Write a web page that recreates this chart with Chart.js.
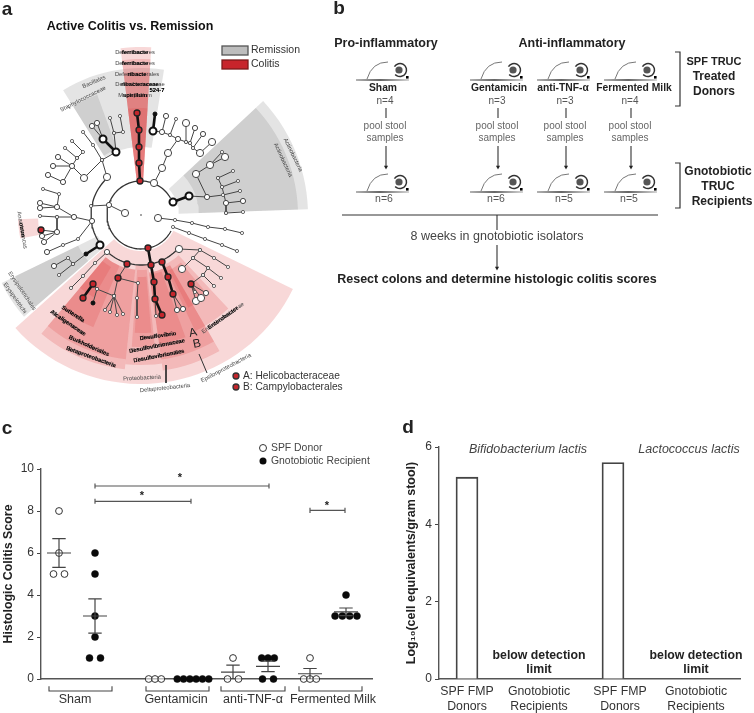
<!DOCTYPE html>
<html>
<head>
<meta charset="utf-8">
<script src="https://cdn.jsdelivr.net/npm/chart.js@4"></script>
<style>
  html, body { margin: 0; padding: 0; background: #fff; }
  canvas { position: absolute; filter: blur(0.35px); }
</style>
</head>
<body>
<canvas id="schematic" width="754" height="410" style="left:0;top:0"></canvas>
<canvas id="scores" width="400" height="293" style="left:0;top:420px"></canvas>
<canvas id="counts" width="354" height="293" style="left:400px;top:420px"></canvas>
<script>
const FONT = '"Liberation Sans", Arial, sans-serif';

// panel c
const categories = ['Sham', 'Gentamicin', 'anti-TNF-α', 'Fermented Milk'];
const donorScores = [[8, 6, 5, 5], [0, 0, 0], [1, 0, 0], [1, 0, 0, 0]];
const recipientScores = [[6, 5, 3, 2, 1, 1], [0, 0, 0, 0, 0, 0], [1, 1, 1, 0, 0], [4, 3, 3, 3, 3]];
const donorMeans = [6, null, 0.33, 0.25];
const donorErrors = [0.68, null, 0.33, 0.25];
const recipientMeans = [3, null, 0.6, 3.2];
const recipientErrors = [0.82, null, 0.25, 0.18];
const scoreTicks = [0, 2, 4, 6, 8, 10];
const sigLevels = [9.19, 8.46, 8.03];

// panel d
const countLabels = [['SPF FMP', 'Donors'], ['Gnotobiotic', 'Recipients'], ['SPF FMP', 'Donors'], ['Gnotobiotic', 'Recipients']];
const countValues = [5.22, 0, 5.6, 0];

// panel b
const donorGroups = ['Sham', 'Gentamicin', 'anti-TNF-α', 'Fermented Milk'];
const donorN = ['n=4', 'n=3', 'n=3', 'n=4'];
const recipientN = ['n=6', 'n=6', 'n=5', 'n=5'];

// panel a: sectors are [from deg, to deg, inner radius, outer radius] clockwise from north
const redSectors = [
  [116, 228, 36, 169],
  [186, 220, 55, 155], [186, 220, 55, 145], [203, 220, 55, 122], [210, 220, 60, 95],
  [172, 186, 50, 150], [174, 184, 55, 132], [175, 183, 62, 118],
  [150, 172, 58, 157], [150, 172, 58, 146], [160, 172, 60, 130],
  [137, 155, 55, 128], [140, 153, 62, 104],
  [259, 268, 103, 123],
  [-7, 3.5, 34, 168], [-7, 3.5, 34, 156], [-7, 3.5, 34, 143], [-7, 3.5, 34, 120], [-7, 3.5, 34, 107]
];
const graySectors = [
  [-32, 9, 68, 147], [-32, -20, 70, 128],
  [47, 88, 38, 167], [47, 88, 58, 157],
  [229, 244, 48, 155], [229, 244, 70, 140]
];
const cladeArcs = [[34, 118, 420], [50, 234, 318], [50, 131, 222.6]];
const cladeBranches = [
  [154, 183, 162, 168, 168, 153, 178, 139], [178, 139, 170, 135, 162, 132, 166, 116], [170, 135, 176, 119],
  [162, 132, 153, 131], [178, 139, 186, 142, 186, 123], [186, 142, 190, 143, 195, 128],
  [190, 143, 193, 148, 203, 134], [193, 148, 200, 153, 212, 142],
  [189, 196, 207, 197, 196, 174, 210, 165, 222, 152], [210, 165, 225, 157], [207, 197, 223, 195, 240, 191],
  [218, 178, 222, 187, 226, 203, 226, 213], [218, 178, 233, 171], [222, 187, 238, 181], [226, 203, 243, 201], [226, 213, 243, 212],
  [158, 218, 175, 220, 192, 223, 208, 227, 225, 229, 242, 233], [173, 227, 189, 233, 205, 239, 222, 245, 237, 251],
  [179, 249, 200, 250, 214, 258, 228, 267], [200, 250, 193, 258, 182, 269], [193, 258, 208, 268, 221, 278],
  [208, 268, 203, 275, 214, 286], [203, 275, 191, 284], [191, 284, 196, 301], [191, 284, 201, 298], [191, 284, 206, 293], [191, 284, 195, 292],
  [173, 294, 177, 310], [173, 294, 183, 309], [155, 299, 156, 316],
  [107, 252, 95, 263, 83, 276, 71, 288], [127, 264, 118, 278, 114, 296], [118, 278, 138, 283, 137, 298, 137, 317],
  [93, 284, 97, 289, 114, 296], [97, 289, 93, 303], [114, 296, 105, 310], [114, 296, 110, 312], [114, 296, 117, 315], [114, 296, 123, 314],
  [86, 254, 73, 264, 68, 258, 54, 266], [73, 264, 59, 275],
  [92, 221, 74, 217, 57, 207, 40, 203], [57, 207, 40, 208], [74, 217, 57, 217, 40, 216], [57, 217, 57, 232, 41, 230],
  [57, 232, 42, 236], [57, 232, 44, 242], [57, 207, 59, 194, 43, 189], [92, 221, 78, 239, 63, 245, 47, 252],
  [109, 205, 91, 206], [109, 205, 125, 213],
  [107, 177, 102, 160], [102, 160, 116, 152], [84, 178, 102, 160],
  [84, 178, 72, 166, 63, 182, 48, 175], [72, 166, 53, 166], [72, 166, 58, 157], [72, 166, 77, 158, 65, 148], [77, 158, 83, 152, 72, 141],
  [102, 160, 93, 145, 83, 132], [116, 152, 114, 133, 110, 118], [114, 133, 123, 132, 120, 116], [103, 139, 92, 126], [103, 139, 97, 123]
];
const cladeThick = [
  [140, 181, 139, 163, 139, 147, 139, 130, 137, 113], [153, 131, 155, 114], [173, 202, 189, 196],
  [148, 248, 151, 265, 154, 282, 155, 299, 162, 315], [162, 262, 168, 277, 173, 294],
  [93, 284, 83, 298], [100, 245, 86, 254], [116, 152, 103, 139]
];
const bigNodes = [[162, 168], [168, 153], [154, 183], [158, 218], [179, 249], [182, 269], [196, 301], [201, 298], [84, 178], [107, 177], [125, 213],
  [186, 123], [212, 142], [200, 153], [210, 165], [196, 174], [225, 157]];
const midNodes = [[178, 139], [162, 132], [166, 116], [203, 134], [195, 128], [207, 197], [243, 201], [226, 203], [92, 221], [74, 217], [57, 207], [57, 232],
  [72, 166], [58, 157], [63, 182], [48, 175], [53, 166], [92, 126], [97, 123], [206, 293], [177, 310], [183, 309], [40, 203], [40, 208], [54, 266], [47, 252],
  [44, 242], [42, 236], [107, 252], [109, 205]];
const redNodes = [[140, 181], [139, 163], [139, 147], [139, 130], [137, 113], [148, 248], [127, 264], [118, 278], [93, 284], [83, 298], [151, 265], [154, 282],
  [155, 299], [162, 315], [162, 262], [168, 277], [173, 294], [191, 284], [41, 230]];
const ringNodes = [[153, 131], [173, 202], [116, 152], [103, 139], [100, 245], [189, 196]];
const blackNodes = [[155, 114], [86, 254], [93, 303]];

const cladeLabels = [
  ['Deferribacteres', 135, 52, 0, 'ferribacte'], ['Deferribacteres', 135, 63, 0, 'ferribacte'], ['Deferribacterales', 137, 74, 0, 'ribacte'],
  ['Deferribacteraceae', 140, 84, 0, 'ribacteraceae'], ['524-7', 157, 90, 0, '524-7'], ['Mucispirillum', 135, 95, 0, 'spirillum'],
  ['Bacillales', 94, 82, -23, ''], ['Staphylococcaceae', 83, 99, -27, ''],
  ['Actinobacteria', 293, 155, 64, ''], ['Actinobacteria', 283, 160, 65, ''],
  ['Erysipelotrichales', 22, 291, 56, ''], ['Erysipelotrichi', 15, 298, 55, ''], ['Anaerotruncus', 22, 230, 80, 'otrun'],
  ['Sutterella', 73, 314, 33, 'Sutterella'], ['Alcaligenaceae', 68, 323, 34, 'Alcaligenaceae'], ['Burkholderiales', 89, 346, 24, 'Burkholderiales'],
  ['Betaproteobacteria', 91, 357, 20, 'Betaproteobacteria'], ['Proteobacteria', 142, 378, -3, ''], ['Deltaproteobacteria', 165, 388, -6, ''],
  ['Epsilonproteobacteria', 226, 368, -28, ''], ['Desulfovibrio', 158, 336, -8, 'Desulfovibrio'], ['Desulfovibrionaceae', 157, 346, -11, 'Desulfovibrionaceae'],
  ['Desulfovibrionales', 159, 356, -11, 'Desulfovibrionales'], ['Enterobacteriaceae', 223, 318, -35, 'Enterobacter']
];

// layout, in page pixels (the schematic scales run in page pixels)
const rootX = 141, rootY = 215;
const mouseX = [383, 497, 564, 631];
const donorMouseY = 72, recipientMouseY = 184;
const flowX = [386, 498, 566, 631];
const donorCenterX = [59, 155, 233, 310];
const recipientCenterX = [95, 193, 268, 346];
const groupLabelX = [75, 176, 253, 333];
const groupBrackets = [[49, 112], [146, 209], [221, 285], [299, 362]];
const sigSpans = [[95, 269], [95, 191], [310, 345]];
const countX = [467, 539, 613, 696];
const countLabelX = [467, 539, 620, 696];

Chart.defaults.font.family = FONT;
Chart.defaults.animation = false;
Chart.defaults.events = [];
Chart.defaults.plugins.legend.display = false;
Chart.defaults.plugins.tooltip.enabled = false;
Chart.defaults.responsive = false;
Chart.defaults.layout.autoPadding = false;

function polar(angle, r) {
  const t = angle * Math.PI / 180;
  return { x: rootX + r * Math.sin(t), y: rootY - r * Math.cos(t) };
}
function arcPoints(a0, a1, r) {
  const pts = [];
  const n = Math.ceil(Math.abs(a1 - a0) / 3);
  for (let i = 0; i <= n; i++) pts.push(polar(a0 + (a1 - a0) * i / n, r));
  return pts;
}
function sectorDataset(s, color) {
  const pts = arcPoints(s[0], s[1], s[3]).concat(arcPoints(s[1], s[0], s[2]));
  return { data: pts, showLine: true, fill: 'shape', backgroundColor: color, borderWidth: 0, pointRadius: 0, clip: false };
}
// flat polylines to {x,y} with gaps between them
function segments(lines) {
  const pts = [];
  lines.forEach(l => {
    for (let i = 0; i < l.length; i += 2) pts.push({ x: l[i], y: l[i + 1] });
    pts.push({ x: null, y: null });
  });
  return pts;
}
function pairs(list) { return list.map(p => ({ x: p[0], y: p[1] })); }

function nodeDataset(list, radius, fill, stroke, width) {
  return { data: pairs(list), pointRadius: radius, pointBackgroundColor: fill, pointBorderColor: stroke, pointBorderWidth: width, clip: false };
}

function makeMouse() {
  const c = document.createElement('canvas');
  c.width = 54; c.height = 22;
  const g = c.getContext('2d');
  const base = g.createLinearGradient(0, 0, 54, 0);
  base.addColorStop(0, '#999'); base.addColorStop(0.45, '#333'); base.addColorStop(1, '#ccc');
  g.strokeStyle = base; g.lineWidth = 1.3;
  g.beginPath(); g.moveTo(0, 19); g.lineTo(53, 19); g.stroke();
  g.strokeStyle = '#777'; g.lineWidth = 1;
  g.beginPath(); g.moveTo(11, 18); g.quadraticCurveTo(16, 1, 32, 1); g.stroke();
  g.strokeStyle = '#333'; g.lineWidth = 1.5;
  g.beginPath(); g.arc(44, 9, 6.5, -2.6, 2.4); g.stroke();
  g.fillStyle = '#555';
  g.beginPath(); g.arc(43, 9, 3.6, 0, Math.PI * 2); g.fill();
  g.fillStyle = '#000';
  g.fillRect(50, 15, 2.6, 2.6);
  return c;
}

function put(chart, text, x, y, font, color, align, rot) {
  const ctx = chart.ctx;
  ctx.save();
  ctx.translate(chart.scales.x.getPixelForValue(x), chart.scales.y.getPixelForValue(y));
  if (rot) ctx.rotate(rot * Math.PI / 180);
  ctx.font = font + ' ' + FONT;
  ctx.fillStyle = color || '#222';
  ctx.textAlign = align || 'center';
  ctx.textBaseline = 'middle';
  ctx.fillText(text, 0, 0);
  ctx.restore();
}

const mouseIcon = makeMouse();
const flowLines = [];
const arrowTips = [];
flowX.forEach(x => {
  flowLines.push([x, 108, x, 118], [x, 146, x, 167]);
  arrowTips.push([x, 167]);
});
flowLines.push([342, 215, 658, 215], [497, 215, 497, 230], [497, 245, 497, 268]);
arrowTips.push([497, 268]);
const bracketLines = [[675, 52, 680, 52, 680, 106, 675, 106], [675, 163, 680, 163, 680, 208, 675, 208]];
const guideLines = [[166, 365, 166, 383], [199, 354, 207, 373]];

new Chart(document.getElementById('schematic'), {
  type: 'scatter',
  data: {
    datasets: [
      nodeDataset(redNodes, 3, '#c4262c', '#222', 1.3),
      nodeDataset(ringNodes, 3.5, '#fff', '#111', 2),
      nodeDataset(blackNodes, 2, '#111', '#111', 1),
      nodeDataset(bigNodes, 3.6, '#fff', '#444', 1),
      nodeDataset(midNodes, 2.6, '#fff', '#444', 1),
      { data: segments(cladeThick), showLine: true, borderColor: '#111', borderWidth: 2.6, pointRadius: 0, clip: false },
      { data: segments(cladeBranches), showLine: true, borderColor: '#444', borderWidth: 1, pointRadius: 1.6,
        pointBackgroundColor: '#fff', pointBorderColor: '#444', pointBorderWidth: 0.8, clip: false },
      { data: cladeArcs.reduce((all, a) => all.concat(arcPoints(a[1], a[2], a[0]), [{ x: null, y: null }]), []),
        showLine: true, borderColor: '#333', borderWidth: 1.3, pointRadius: 0, clip: false },
      { data: [{ x: rootX, y: rootY }], pointRadius: 0.8, pointBackgroundColor: '#333', pointBorderWidth: 0 },
      { data: segments(guideLines), showLine: true, borderColor: '#333', borderWidth: 1, pointRadius: 0 },
      ...redSectors.map(s => sectorDataset(s, 'rgba(220,60,60,0.2)')),
      ...graySectors.map(s => sectorDataset(s, 'rgba(120,120,120,0.2)')),
      // panel b
      { data: mouseX.map(x => ({ x: x, y: donorMouseY })).concat(mouseX.map(x => ({ x: x, y: recipientMouseY }))),
        pointStyle: mouseIcon, pointRadius: 10 },
      { data: pairs(arrowTips), pointStyle: 'triangle', rotation: 180, pointRadius: 2.4, pointBackgroundColor: '#222', pointBorderWidth: 0 },
      { data: segments(flowLines), showLine: true, borderColor: '#333', borderWidth: 1.1, pointRadius: 0 },
      { data: segments(bracketLines), showLine: true, borderColor: '#333', borderWidth: 1.2, pointRadius: 0 }
    ]
  },
  options: {
    layout: { padding: 0 },
    scales: {
      x: { type: 'linear', min: 0, max: 754, display: false },
      y: { type: 'linear', min: 0, max: 410, reverse: true, display: false }
    }
  },
  plugins: [{
    id: 'schematicText',
    afterDatasetsDraw(chart) {
      put(chart, 'a', 7, 10, 'bold 19px');
      put(chart, 'b', 339, 9, 'bold 19px');
      put(chart, 'Active Colitis vs. Remission', 130, 27, 'bold 12.5px', '#111');

      const sx = chart.scales.x, sy = chart.scales.y, ctx = chart.ctx;
      ctx.fillStyle = '#bdbdbd'; ctx.strokeStyle = '#555';
      ctx.fillRect(sx.getPixelForValue(222), sy.getPixelForValue(46), 26, 9);
      ctx.strokeRect(sx.getPixelForValue(222), sy.getPixelForValue(46), 26, 9);
      ctx.fillStyle = '#c8242b'; ctx.strokeStyle = '#7c1a1a';
      ctx.fillRect(sx.getPixelForValue(222), sy.getPixelForValue(60), 26, 9);
      ctx.strokeRect(sx.getPixelForValue(222), sy.getPixelForValue(60), 26, 9);
      put(chart, 'Remission', 251, 50, '10.5px', '#333', 'left');
      put(chart, 'Colitis', 251, 64, '10.5px', '#333', 'left');

      cladeLabels.forEach(l => {
        put(chart, l[0], l[1], l[2], '5.8px', '#444', 'center', l[3]);
        if (l[4]) put(chart, l[4], l[1], l[2], 'bold 5.8px', '#000', 'center', l[3]);
      });
      put(chart, 'A', 193, 333, '12px', '#222', 'center', -12);
      put(chart, 'B', 197, 344, '12px', '#222', 'center', -12);

      [[236, 376, 'A: Helicobacteraceae'], [236, 387, 'B: Campylobacterales']].forEach(k => {
        ctx.beginPath();
        ctx.arc(sx.getPixelForValue(k[0]), sy.getPixelForValue(k[1]), 3, 0, Math.PI * 2);
        ctx.fillStyle = '#c4262c'; ctx.strokeStyle = '#333'; ctx.fill(); ctx.stroke();
        put(chart, k[2], 243, k[1], '10.2px', '#333', 'left');
      });

      // panel b
      put(chart, 'Pro-inflammatory', 386, 44, 'bold 12.5px', '#222');
      put(chart, 'Anti-inflammatory', 572, 44, 'bold 12.5px', '#222');
      const nameX = [383, 499, 563, 634];
      donorGroups.forEach((g, i) => {
        put(chart, g, nameX[i], 88, 'bold 10.3px', '#222');
        put(chart, donorN[i], flowX[i] - 1, 101, '10px', '#555');
        put(chart, 'pool stool', flowX[i] - 1, 126, '10px', '#666');
        put(chart, 'samples', flowX[i] - 1, 138, '10px', '#666');
        put(chart, recipientN[i], flowX[i] - 2, 199, '10.5px', '#555');
      });
      put(chart, '8 weeks in gnotobiotic isolators', 497, 237, '12.5px', '#444');
      put(chart, 'Resect colons and determine histologic colitis scores', 497, 280, 'bold 12.5px', '#222');
      put(chart, 'SPF TRUC', 714, 62, 'bold 11px', '#222');
      put(chart, 'Treated', 714, 77, 'bold 12px', '#222');
      put(chart, 'Donors', 714, 92, 'bold 12px', '#222');
      put(chart, 'Gnotobiotic', 718, 172, 'bold 12px', '#222');
      put(chart, 'TRUC', 718, 187, 'bold 12px', '#222');
      put(chart, 'Recipients', 722, 202, 'bold 12px', '#222');
    }
  }]
});

// panel c
function swarm(center, values) {
  return values.map((v, i) => {
    const same = [];
    values.forEach((o, j) => { if (o === v) same.push(j); });
    const n = same.length;
    const step = n === 2 ? 11 : n === 4 ? 7.3 : 6.3;
    return { x: center + (same.indexOf(i) - (n - 1) / 2) * step, y: v };
  });
}
function meanLines(centers, means, errors) {
  const lines = [];
  centers.forEach((c, i) => {
    if (means[i] === null) return;
    lines.push([c - 12, means[i], c + 12, means[i]]);
    lines.push([c, means[i] - errors[i], c, means[i] + errors[i]]);
    lines.push([c - 6.7, means[i] + errors[i], c + 6.7, means[i] + errors[i]]);
    if (means[i] - errors[i] > 0.01) lines.push([c - 6.7, means[i] - errors[i], c + 6.7, means[i] - errors[i]]);
  });
  return lines;
}
function sigLines() {
  const lines = [];
  sigSpans.forEach((s, i) => {
    lines.push([s[0], sigLevels[i], s[1], sigLevels[i]]);
    lines.push([s[0], sigLevels[i] - 0.12, s[0], sigLevels[i] + 0.12]);
    lines.push([s[1], sigLevels[i] - 0.12, s[1], sigLevels[i] + 0.12]);
  });
  return lines;
}
const groupLines = groupBrackets.map(b => [b[0], -0.34, b[0], -0.57, b[1], -0.57, b[1], -0.34]);

new Chart(document.getElementById('scores'), {
  type: 'scatter',
  data: {
    datasets: [
      { data: segments(meanLines(donorCenterX, donorMeans, donorErrors).concat(meanLines(recipientCenterX, recipientMeans, recipientErrors))),
        showLine: true, borderColor: '#444', borderWidth: 1.2, pointRadius: 0, clip: false },
      { label: 'SPF Donor', data: donorScores.flatMap((v, i) => swarm(donorCenterX[i], v)),
        pointRadius: 3.4, pointBackgroundColor: 'rgba(255,255,255,0.6)', pointBorderColor: '#333', pointBorderWidth: 1, clip: false },
      { label: 'Gnotobiotic Recipient', data: recipientScores.flatMap((v, i) => swarm(recipientCenterX[i], v)),
        pointRadius: 3.5, pointBackgroundColor: '#0a0a0a', pointBorderColor: '#0a0a0a', pointBorderWidth: 0.5, clip: false },
      { data: segments(sigLines()), showLine: true, borderColor: '#555', borderWidth: 1.2, pointRadius: 0, clip: false },
      { data: segments(groupLines), showLine: true, borderColor: '#444', borderWidth: 1.1, pointRadius: 0, clip: false }
    ]
  },
  options: {
    layout: { padding: { top: 49, right: 28, left: 0, bottom: 0 } },
    scales: {
      x: {
        type: 'linear', min: 41, max: 372,
        afterBuildTicks: s => { s.ticks = groupLabelX.map(v => ({ value: v })); },
        afterFit: s => { s.height = 34; },
        grid: { display: false, drawTicks: false },
        border: { color: '#555', width: 1.4 },
        ticks: { autoSkip: false, maxRotation: 0, padding: 13, color: '#333', font: { size: 12.5 },
          callback: v => categories[groupLabelX.indexOf(v)] }
      },
      y: {
        min: 0, max: 10,
        afterBuildTicks: s => { s.ticks = scoreTicks.map(v => ({ value: v })); },
        afterFit: s => { s.width = 41; },
        grid: { drawOnChartArea: false, tickLength: 4, tickColor: '#444' },
        border: { color: '#555', width: 1.4 },
        ticks: { padding: 3, color: '#333', font: { size: 12 } },
        title: { display: true, text: 'Histologic Colitis Score', color: '#222', font: { size: 12.4, weight: 'bold' }, padding: { top: 1, bottom: 0 } }
      }
    }
  },
  plugins: [{
    id: 'scoreNotes',
    afterDatasetsDraw(chart) {
      const ctx = chart.ctx, sy = chart.scales.y;
      const yOf = py => sy.getValueForPixel(py - 420);
      put(chart, 'c', 7, yOf(429), 'bold 19px');
      put(chart, '*', 180, 9.55, 'bold 11px', '#222');
      put(chart, '*', 142, 8.72, 'bold 11px', '#222');
      put(chart, '*', 327, 8.24, 'bold 11px', '#222');
      put(chart, 'SPF Donor', 271, yOf(448), '10.4px', '#444', 'left');
      put(chart, 'Gnotobiotic Recipient', 271, yOf(461), '10.4px', '#444', 'left');
      ctx.beginPath(); ctx.arc(263, 28, 3.5, 0, Math.PI * 2); ctx.fillStyle = '#fff'; ctx.strokeStyle = '#333'; ctx.lineWidth = 1; ctx.fill(); ctx.stroke();
      ctx.beginPath(); ctx.arc(263, 41, 3.5, 0, Math.PI * 2); ctx.fillStyle = '#0a0a0a'; ctx.fill();
    }
  }]
});

// panel d
new Chart(document.getElementById('counts'), {
  type: 'bar',
  data: {
    datasets: [{
      data: countValues.map((v, i) => ({ x: countX[i], y: v })),
      backgroundColor: '#fff', borderColor: '#444', borderWidth: 1.8, barThickness: 22
    }]
  },
  options: {
    layout: { padding: { top: 27, right: 14, left: 0, bottom: 0 } },
    scales: {
      x: {
        type: 'linear', min: 439, max: 740, offset: false,
        afterBuildTicks: s => { s.ticks = countLabelX.map(v => ({ value: v })); },
        afterFit: s => { s.height = 34; },
        grid: { display: false, offset: false, drawTicks: false },
        border: { color: '#555', width: 1.4 },
        ticks: { autoSkip: false, maxRotation: 0, padding: 5, color: '#333', font: { size: 12.3, lineHeight: 1.22 },
          callback: v => countLabels[countLabelX.indexOf(v)] }
      },
      y: {
        min: 0, max: 6,
        afterFit: s => { s.width = 39; },
        grid: { drawOnChartArea: false, tickLength: 4, tickColor: '#444' },
        border: { color: '#555', width: 1.4 },
        ticks: { stepSize: 2, padding: 3, color: '#333', font: { size: 12 } },
        title: { display: true, text: 'Log₁₀(cell equivalents/gram stool)', color: '#222', font: { size: 12.5, weight: 'bold' }, padding: { top: 4, bottom: 0 } }
      }
    }
  },
  plugins: [{
    id: 'countNotes',
    afterDatasetsDraw(chart) {
      const sy = chart.scales.y;
      const yOf = py => sy.getValueForPixel(py - 420);
      put(chart, 'd', 408, yOf(428), 'bold 19px');
      put(chart, 'Bifidobacterium lactis', 528, yOf(450), 'italic 12.5px', '#444');
      put(chart, 'Lactococcus lactis', 689, yOf(450), 'italic 12.5px', '#444');
      [539, 696].forEach(x => {
        put(chart, 'below detection', x, yOf(656), 'bold 12.3px', '#222');
        put(chart, 'limit', x, yOf(670), 'bold 12.3px', '#222');
      });
    }
  }]
});
</script>
</body>
</html>
